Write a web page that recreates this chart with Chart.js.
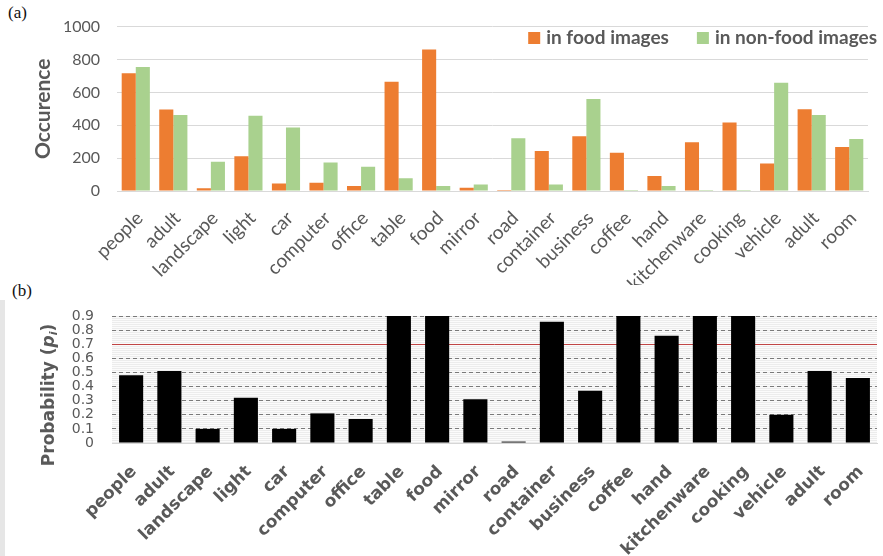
<!DOCTYPE html>
<html>
<head>
<meta charset="utf-8">
<script src="https://cdn.jsdelivr.net/npm/chart.js@4.4.1/dist/chart.umd.min.js"></script>
<style>
  body { margin: 0; background: #fff; width: 883px; height: 556px; overflow: hidden; position: relative; }
  .panel { position: absolute; left: 0; width: 883px; }
  .tag { position: absolute; font-family: "Liberation Serif", serif; font-size: 17px; color: #111; }
  #tira { position: absolute; left: 0; top: 300px; width: 5px; height: 256px; background: #e6e6e6; }
</style>
</head>
<body>
<div class="tag" style="left:8px;top:3px">(a)</div>
<div class="tag" style="left:12px;top:281px">(b)</div>
<div id="tira"></div>
<div class="panel" style="top:0;height:285px"><canvas id="graficoA"></canvas></div>
<div class="panel" style="top:288px;height:268px"><canvas id="graficoB"></canvas></div>
<script>
// ---- datos ----
const categorias = ["people", "adult", "landscape", "light", "car", "computer", "office", "table", "food", "mirror",
  "road", "container", "business", "coffee", "hand", "kitchenware", "cooking", "vehicle", "adult", "room"];
const enComida = [717, 495, 16, 212, 46, 50, 30, 664, 861, 20, 6, 244, 333, 232, 91, 297, 416, 168, 497, 267];
const enNoComida = [755, 463, 178, 457, 386, 174, 147, 77, 30, 40, 321, 40, 560, 6, 30, 6, 6, 658, 463, 317];
const probabilidad = [0.48, 0.51, 0.1, 0.32, 0.1, 0.21, 0.17, 0.9, 0.97, 0.31, 0.01, 0.86, 0.37, 0.97, 0.76, 0.98, 0.99, 0.2, 0.51, 0.46];
const ticksOcurrencia = [0, 200, 400, 600, 800, 1000];
const umbral = 0.7;

const gris = "#595959";

// etiquetas del eje x giradas 45 grados, colocadas con la escala x
const etiquetasX = {
  id: "etiquetasX",
  afterDraw(chart, args, opts) {
    const c = chart.ctx;
    const sx = chart.scales.x;
    c.save();
    c.font = opts.font;
    c.fillStyle = gris;
    c.textAlign = "right";
    c.textBaseline = "middle";
    chart.data.labels.forEach((txt, i) => {
      c.save();
      c.translate(sx.getPixelForTick(i) + opts.dx, sx.top + opts.dy);
      c.rotate(-Math.PI / 4);
      c.fillText(txt, 0, 0);
      c.restore();
    });
    c.restore();
  },
};

// leyenda dentro del area (arriba a la derecha)
const leyendaA = {
  id: "leyendaA",
  afterDraw(chart) {
    const c = chart.ctx;
    c.save();
    c.font = "bold 19px Lato";
    c.textBaseline = "middle";
    let x = 877;
    const y = 38;
    const items = chart.data.datasets.slice().reverse();
    items.forEach((ds) => {
      const w = c.measureText(ds.label).width;
      x -= w;
      c.fillStyle = gris;
      c.fillText(ds.label, x, y);
      x -= 18;
      c.fillStyle = ds.backgroundColor;
      c.fillRect(x, y - 6, 12, 12);
      x -= 28;
    });
    c.restore();
  },
};

new Chart(document.getElementById("graficoA"), {
  type: "bar",
  data: {
    labels: categorias,
    datasets: [
      { label: "in food images", data: enComida, backgroundColor: "#ED7D31" },
      { label: "in non-food images", data: enNoComida, backgroundColor: "#A9D18E" },
    ],
  },
  options: {
    responsive: true,
    maintainAspectRatio: false,
    animation: false,
    devicePixelRatio: 1,
    datasets: { bar: { categoryPercentage: 0.75, barPercentage: 1 } },
    layout: { padding: { top: 23, right: 15, left: 0, bottom: 0 } },
    plugins: {
      legend: { display: false },
      tooltip: { enabled: false },
      etiquetasX: { font: "19px Lato", dx: 4, dy: 24 },
    },
    scales: {
      x: {
        grid: { display: false },
        border: { color: "#d9d9d9" },
        ticks: { display: false },
        afterFit: (s) => { s.height = 94; },
      },
      y: {
        min: 0,
        max: 1000,
        afterBuildTicks: (s) => { s.ticks = ticksOcurrencia.map((v) => ({ value: v })); },
        ticks: { font: { family: "Lato", size: 16 }, color: gris, padding: 17, callback: (v) => String(v) },
        grid: { color: "#d9d9d9", drawTicks: false },
        border: { display: false },
        title: { display: true, text: "Occurence", font: { family: "Lato", size: 21, weight: "bold" }, color: gris, padding: { top: 31, bottom: 0 } },
        afterFit: (s) => { s.width = 117; },
      },
    },
  },
  plugins: [leyendaA, etiquetasX],
});

// ---- grafico b ----
const fondoRayado = {
  id: "fondoRayado",
  beforeDraw(chart) {
    const { ctx, chartArea: a } = chart;
    const p = document.createElement("canvas");
    p.width = 1; p.height = 2;
    const pc = p.getContext("2d");
    pc.fillStyle = "#fbfbfb"; pc.fillRect(0, 0, 1, 2);
    pc.fillStyle = "#ececec"; pc.fillRect(0, 0, 1, 1);
    ctx.save();
    ctx.fillStyle = ctx.createPattern(p, "repeat");
    ctx.fillRect(a.left, a.top, a.right - a.left, a.bottom - a.top);
    ctx.restore();
  },
  beforeDatasetsDraw(chart) {
    const { ctx, chartArea: a, scales } = chart;
    const y = Math.round(scales.y.getPixelForValue(umbral)) + 0.5;
    ctx.save();
    ctx.strokeStyle = "#c04545";
    ctx.lineWidth = 1;
    ctx.beginPath();
    ctx.moveTo(a.left, y);
    ctx.lineTo(a.right, y);
    ctx.stroke();
    ctx.restore();
  },
  afterDraw(chart) {
    // titulo del eje y con p en cursiva y subindice i
    const c = chart.ctx;
    const partes = [
      ["Probability (", "bold 17px 'DejaVu Sans'", 0],
      ["p", "italic bold 17px 'DejaVu Sans'", 0],
      ["i", "italic bold 11px 'DejaVu Sans'", 4],
      [")", "bold 17px 'DejaVu Sans'", 0],
    ];
    c.save();
    let total = 0;
    partes.forEach((pt) => { c.font = pt[1]; total += c.measureText(pt[0]).width; });
    c.translate(50, 107);
    c.rotate(-Math.PI / 2);
    c.fillStyle = gris;
    c.textBaseline = "middle";
    let x = -total / 2;
    partes.forEach((pt) => {
      c.font = pt[1];
      c.fillText(pt[0], x, pt[2]);
      x += c.measureText(pt[0]).width;
    });
    c.restore();
  },
};

new Chart(document.getElementById("graficoB"), {
  type: "bar",
  data: {
    labels: categorias,
    datasets: [{ label: "Probability", data: probabilidad, backgroundColor: "#000", categoryPercentage: 1, barPercentage: 0.63 }],
  },
  options: {
    responsive: true,
    maintainAspectRatio: false,
    animation: false,
    devicePixelRatio: 1,
    layout: { padding: { top: 28, right: 6, left: 0, bottom: 0 } },
    plugins: {
      legend: { display: false },
      tooltip: { enabled: false },
      etiquetasX: { font: "bold 17px 'DejaVu Sans'", dx: 3, dy: 26 },
    },
    scales: {
      x: {
        grid: { display: false },
        border: { color: "#d6d6d6" },
        ticks: { display: false },
        afterFit: (s) => { s.height = 113; },
      },
      y: {
        min: 0,
        max: 0.9,
        ticks: { stepSize: 0.1, autoSkip: false, font: { family: "DejaVu Sans", size: 14, lineHeight: 1 }, color: gris, padding: 18 },
        grid: {
          drawTicks: false,
          color: (ctx) => (ctx.tick && (ctx.tick.value === 0 || Math.abs(ctx.tick.value - umbral) < 1e-6) ? "rgba(0,0,0,0)" : "#7a7a7a"),
        },
        border: { display: false, dash: [4, 3] },
        afterFit: (s) => { s.width = 112; },
      },
    },
  },
  plugins: [fondoRayado, etiquetasX],
});
</script>
</body>
</html>
